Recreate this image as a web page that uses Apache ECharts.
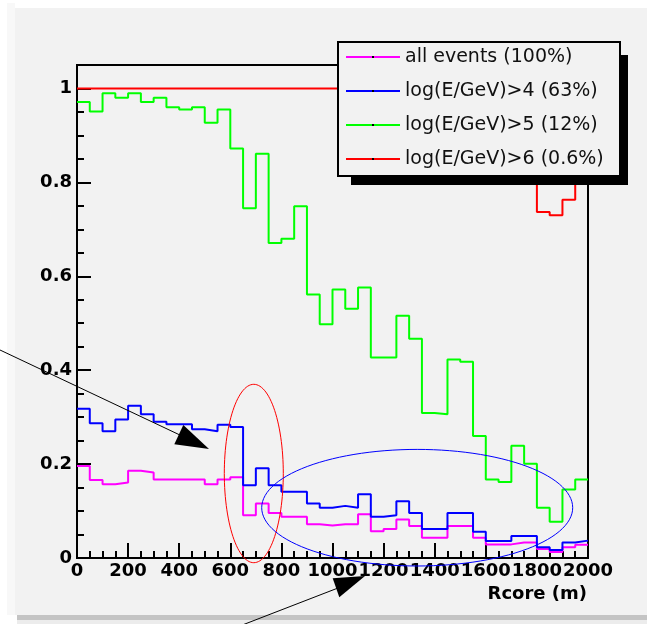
<!DOCTYPE html>
<html>
<head>
<meta charset="utf-8">
<script src="https://cdn.jsdelivr.net/npm/echarts@6/dist/echarts.min.js"></script>
<style>
html,body{margin:0;padding:0;background:#fff;}
#c{width:647px;height:624px;}
</style>
</head>
<body>
<div id="c"></div>
<script>
// ---- data ----
const binEdges = [0,50,100,150,200,250,300,350,400,450,500,550,600,650,700,750,800,850,900,950,
  1000,1050,1100,1150,1200,1250,1300,1350,1400,1450,1500,1550,1600,1650,1700,1750,1800,1850,1900,1950,2000];
const seriesNames = ['all events (100%)','log(E/GeV)>4 (63%)','log(E/GeV)>5 (12%)','log(E/GeV)>6 (0.6%)'];
const allEvents = [0.196,0.166,0.157,0.161,0.186,0.182,0.167,0.167,0.167,0.167,0.157,0.167,0.172,0.091,0.116,0.096,0.088,0.088,0.072,0.069,
  0.072,0.072,0.093,0.057,0.062,0.082,0.068,0.043,0.043,0.068,0.068,0.043,0.029,0.029,0.033,0.033,0.019,0.013,0.023,0.028];
const logE4 = [0.318,0.287,0.270,0.295,0.324,0.306,0.290,0.285,0.285,0.274,0.270,0.284,0.279,0.155,0.191,0.155,0.141,0.141,0.116,0.107,
  0.111,0.107,0.136,0.088,0.091,0.121,0.096,0.062,0.062,0.096,0.096,0.056,0.036,0.036,0.047,0.047,0.023,0.017,0.033,0.037];
const logE5 = [0.971,0.951,0.990,0.980,0.990,0.971,0.980,0.960,0.955,0.960,0.927,0.955,0.872,0.745,0.861,0.671,0.680,0.749,0.561,0.498,
  0.572,0.531,0.576,0.427,0.427,0.516,0.467,0.309,0.306,0.423,0.418,0.260,0.167,0.162,0.239,0.201,0.107,0.077,0.146,0.167];
const logE6 = [1,1,1,1,1,1,1,1,1,1,1,1,1,1,1,1,1,1,1,1,
  1,1,1,1,1,1,1,1,1,1,1,1,1,1,1,1,0.737,0.730,0.763,1];
const xTickLabels = ['0','200','400','600','800','1000','1200','1400','1600','1800','2000'];
const yTickLabels = ['0','0.2','0.4','0.6','0.8','1'];

// ---- chart ----
const colors = ['#ff00ff','#0000ff','#00ff00','#ff0000'];
const valuesList = [allEvents, logE4, logE5, logE6];
function stepData(vals){
  return binEdges.map((x,i)=>[x, vals[Math.min(i, vals.length-1)]]);
}
const tickFont = {fontFamily:'DejaVu Sans', fontSize:18, fontWeight:'bold', color:'#000'};

const series = valuesList.map((vals,k)=>({
  name: seriesNames[k],
  type: 'line',
  step: 'end',
  data: stepData(vals),
  showSymbol: false,
  symbol: 'none',
  xAxisIndex: 0,
  yAxisIndex: 0,
  color: colors[k],
  itemStyle: {color: colors[k]},
  lineStyle: {color: colors[k], width: 2},
  z: 2,
  animation: false
}));

function ellipsePts(cx, cy, rx, ry){
  const p = [];
  for (let i=0;i<=120;i++){ const t = i/120*Math.PI*2; p.push([cx+rx*Math.cos(t), cy+ry*Math.sin(t)]); }
  return p;
}

const chart = echarts.init(document.getElementById('c'), null, {renderer:'canvas'});
chart.setOption({
  backgroundColor: '#ffffff',
  animation: false,
  grid: {left:77, right:59, top:65, bottom:66, show:true, borderColor:'#000', borderWidth:2, backgroundColor:'transparent', containLabel:false},
  xAxis: [{
    type:'value', min:0, max:2000, interval:200, position:'bottom',
    axisLine:{show:true, onZero:false, lineStyle:{color:'#000', width:2}},
    axisTick:{show:true, inside:true, length:15, lineStyle:{color:'#000', width:2}},
    minorTick:{show:true, splitNumber:4, length:7, lineStyle:{color:'#000', width:2}},
    splitLine:{show:false}, minorSplitLine:{show:false},
    axisLabel:Object.assign({margin:4, formatter:(v)=>{const i=xTickLabels.indexOf(String(v)); return i>=0?xTickLabels[i]:'';}}, tickFont),
    name:'Rcore (m)', nameLocation:'end', nameGap:-1,
    nameTextStyle:{fontFamily:'DejaVu Sans', fontSize:18, fontWeight:'bold', color:'#000', align:'right', verticalAlign:'top', padding:[27,0,0,0]}
  }],
  yAxis: [{
    type:'value', min:0, max:1.05, interval:0.2, position:'left',
    axisLine:{show:true, onZero:false, lineStyle:{color:'#000', width:2}},
    axisTick:{show:true, inside:true, length:14, lineStyle:{color:'#000', width:2}},
    splitLine:{show:false},
    axisLabel:Object.assign({margin:5, showMaxLabel:false, formatter:(v)=>{
      const s = String(+v.toFixed(2)); return yTickLabels.indexOf(s)>=0 ? s : '';}}, tickFont)
  },{
    type:'value', min:0, max:1.05, interval:0.05, position:'left', offset:0,
    axisLine:{show:false},
    axisTick:{show:true, inside:true, length:7, lineStyle:{color:'#000', width:2}},
    splitLine:{show:false},
    axisLabel:{show:false}
  }],
  legend: {
    data: seriesNames, orient:'vertical', left:346, top:47, itemGap:14, padding:0,
    icon:'rect', itemWidth:54, itemHeight:2, selectedMode:false, z:20,
    textStyle:{fontFamily:'DejaVu Sans', fontSize:19, color:'#111', lineHeight:20, padding:[0,0,0,0]}
  },
  graphic: [
    {type:'rect', z:-10, silent:true, shape:{x:15,y:8,width:632,height:607}, style:{fill:'#f2f2f2'}},
    {type:'rect', z:-10, silent:true, shape:{x:7,y:3,width:8,height:612}, style:{fill:'#f8f8f8'}},
    {type:'rect', z:-10, silent:true, shape:{x:17,y:615,width:630,height:5}, style:{fill:'#c4c4c4'}},
    {type:'rect', z:-10, silent:true, shape:{x:17,y:620,width:630,height:4}, style:{fill:'#ececec'}},
    {type:'rect', z:10, silent:true, shape:{x:351,y:55,width:277,height:130}, style:{fill:'#000'}},
    {type:'rect', z:11, silent:true, shape:{x:338,y:42,width:282,height:134}, style:{fill:'#f2f2f2', stroke:'#000', lineWidth:2}},
    {type:'rect', z:21, silent:true, shape:{x:372,y:56,width:2,height:2}, style:{fill:'#000'}},
    {type:'rect', z:21, silent:true, shape:{x:372,y:90,width:2,height:2}, style:{fill:'#000'}},
    {type:'rect', z:21, silent:true, shape:{x:372,y:124,width:2,height:2}, style:{fill:'#000'}},
    {type:'rect', z:21, silent:true, shape:{x:372,y:158,width:2,height:2}, style:{fill:'#000'}},
    {type:'polyline', z:30, silent:true, shape:{points:ellipsePts(253.8,473.5,29.5,89.2)}, style:{stroke:'#ff0000', lineWidth:1, fill:null}},
    {type:'polyline', z:30, silent:true, shape:{points:ellipsePts(417.2,507.7,155.5,58.3)}, style:{stroke:'#0000ff', lineWidth:1, fill:null}},
    {type:'line', z:30, silent:true, shape:{x1:0,y1:350,x2:182,y2:436}, style:{stroke:'#000', lineWidth:1}},
    {type:'polygon', z:30, silent:true, shape:{points:[[209,449],[183.3,425],[174.3,444.3]]}, style:{fill:'#000'}},
    {type:'line', z:30, silent:true, shape:{x1:232,y1:629,x2:338,y2:588}, style:{stroke:'#000', lineWidth:1}},
    {type:'polygon', z:30, silent:true, shape:{points:[[365,576],[332.7,578.3],[339.3,597.3]]}, style:{fill:'#000'}}
  ],
  series: series
});
</script>
</body>
</html>
